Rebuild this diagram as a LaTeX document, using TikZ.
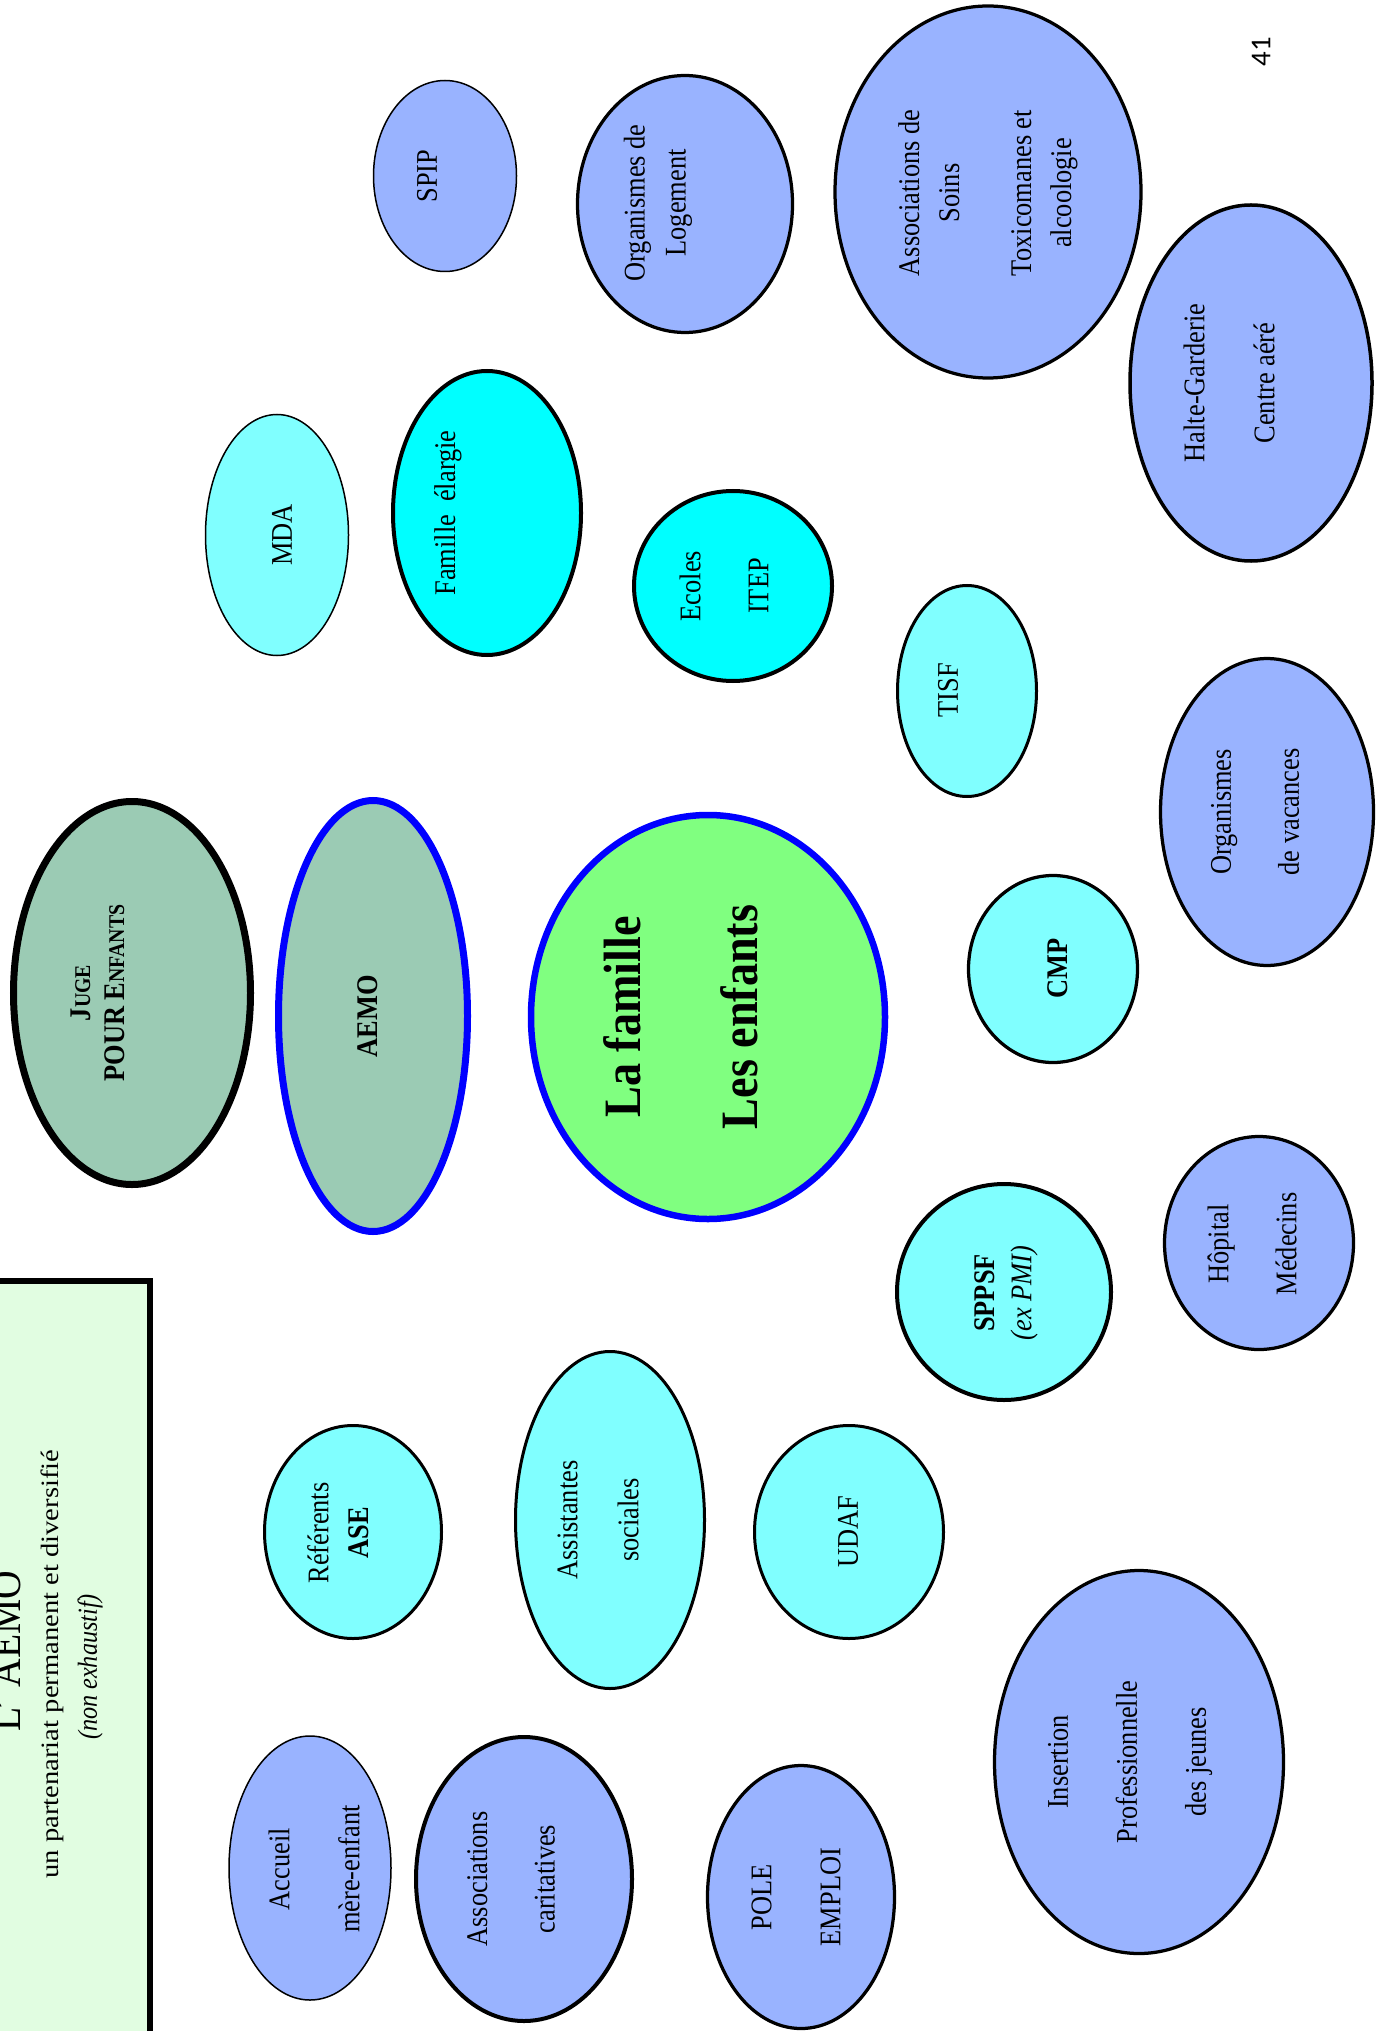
\documentclass[tikz,border=0pt]{standalone}
\usepackage{fontspec}
\setmainfont{Liberation Serif}[FakeStretch=0.88]
\newfontfamily\numfont{Carlito}
\usetikzlibrary{shapes.geometric}
\definecolor{periw}{HTML}{99B3FF}
\definecolor{lcyan}{HTML}{80FFFF}
\definecolor{fcyan}{HTML}{00FFFF}
\definecolor{lgreen}{HTML}{80FF80}
\definecolor{sage}{HTML}{9BCBB4}
\definecolor{paleg}{HTML}{E1FDE1}
\definecolor{pureblue}{HTML}{0000FF}
\tikzset{
  blob/.style={ellipse, draw=black, inner sep=0pt, outer sep=0pt, line width=1.3pt},
  thinblob/.style={blob, line width=0.6pt},
  lbl/.style={rotate=90, align=center, inner sep=0pt, outer sep=0pt, text=black},
  nf/.style={font=\fontsize{12}{#1}\selectfont},
}
\begin{document}
\begin{tikzpicture}[x=0.4pt, y=-0.4pt]
\path[use as bounding box] (0,0) rectangle (1375,2031);
\clip (0,0) rectangle (1375,2031);
% title box
\path[fill=paleg, draw=black, line width=2.4pt] (-20,1281) rectangle (150,2060);
\node[lbl, font=\fontsize{18}{20}\selectfont] (t1) at (6,1651) {L' AEMO};
\node[lbl, xscale=1.3, font=\fontsize{10}{12}\selectfont] (t2) at (52.5,1664) {un partenariat permanent et diversifié};
\node[lbl, font=\fontsize{11}{13}\selectfont\itshape] (t3) at (90,1667) {(non exhaustif)};
% page number
\node[lbl, font=\numfont\fontsize{11.5}{13}\selectfont] (pg) at (1261,52) {41};

% ellipses
\node[blob, fill=sage, line width=2.8pt, minimum width=94.8pt, minimum height=153.2pt] (juge) at (132,993) {};
\node[lbl, font=\fontsize{12}{13.6}\selectfont\bfseries] (juget) at (97.5,993) {J{\fontsize{9}{9}\selectfont UGE}\\POUR E{\fontsize{9}{9}\selectfont NFANTS}};

\node[blob, fill=sage, draw=pureblue, line width=2.8pt, minimum width=75.6pt, minimum height=172.4pt] (aemo) at (373,1016) {};
\node[lbl, font=\fontsize{12}{14}\selectfont\bfseries] (aemot) at (368,1016) {AEMO};

\node[blob, fill=lgreen, draw=pureblue, line width=2.6pt, minimum width=141.6pt, minimum height=161.6pt] (fam) at (708,1017) {};
\node[lbl, font=\fontsize{21}{47}\selectfont\bfseries] (famt) at (681,1017) {La famille\\Les enfants};

\node[blob, fill=fcyan, line width=1.6pt, minimum width=79.2pt, minimum height=76pt] (ecoles) at (733,586) {};
\node[lbl, nf=27.2] (ecolest) at (724,586) {Ecoles\\ITEP};

\node[blob, fill=lcyan, line width=1.6pt, minimum width=85.6pt, minimum height=86.4pt] (sppsf) at (1004,1292) {};
\node[lbl, nf=14.8] (sppsft) at (1006,1293) {\textbf{SPPSF}\\\textit{(ex PMI)}};

\node[blob, fill=lcyan, line width=1.2pt, minimum width=70.8pt, minimum height=85.2pt] (ref) at (353,1532) {};
\node[lbl, nf=16] (reft) at (338,1533) {Référents\\\textbf{ASE}};

\node[thinblob, fill=periw, minimum width=64.8pt, minimum height=105.6pt] (accueil) at (310,1868) {};
\node[lbl, nf=28] (accueilt) at (314,1869) {Accueil\\mère-enfant};

\node[blob, fill=periw, minimum width=122.4pt, minimum height=148.8pt] (soins) at (988,192) {};
\node[lbl, nf=16] (soinst) at (988,193) {Associations de\\Soins\\[12.8pt]Toxicomanes et\\alcoologie};

\node[blob, fill=periw, line width=1.4pt, minimum width=96.8pt, minimum height=142.4pt] (halte) at (1251,383) {};
\node[lbl, nf=28] (haltet) at (1229,383) {Halte-Garderie\\Centre aéré};

\node[blob, fill=periw, minimum width=75.6pt, minimum height=85.2pt] (hop) at (1259,1243) {};
\node[lbl, nf=27.2] (hopt) at (1252,1244) {Hôpital\\Médecins};

\node[thinblob, fill=periw, minimum width=57.2pt, minimum height=76.4pt] (spip) at (445,176) {};
\node[lbl, nf=14] (spipt) at (427,176) {SPIP};

\node[blob, fill=periw, minimum width=86pt, minimum height=102.8pt] (logement) at (685,204) {};
\node[lbl, nf=16.4] (logementt) at (658,203) {Organismes de\\Logement};

\node[thinblob, fill=lcyan, minimum width=57.2pt, minimum height=96.4pt] (mda) at (277,535) {};
\node[lbl, nf=14] (mdat) at (282,535) {MDA};

\node[blob, fill=fcyan, line width=1.6pt, minimum width=75.2pt, minimum height=113.6pt] (famel) at (487,513) {};
\node[lbl, nf=14] (famelt) at (448,513) {Famille\ \ élargie};

\node[blob, fill=lcyan, line width=1.2pt, minimum width=55.6pt, minimum height=84.4pt] (tisf) at (967,691) {};
\node[lbl, nf=14] (tisft) at (948,690) {TISF};

\node[blob, fill=periw, minimum width=85.2pt, minimum height=122.8pt] (vac) at (1267,812) {};
\node[lbl, nf=27.2] (vact) at (1255,812) {Organismes\\de vacances};

\node[blob, fill=lcyan, minimum width=67.6pt, minimum height=74.8pt] (cmp) at (1053,969) {};
\node[lbl, nf=14] (cmpt) at (1058,968) {\textbf{CMP}};

\node[blob, fill=lcyan, line width=1.2pt, minimum width=75.6pt, minimum height=85.2pt] (udaf) at (849,1532) {};
\node[lbl, nf=14] (udaft) at (848,1532) {UDAF};

\node[blob, fill=lcyan, line width=1.2pt, minimum width=75.6pt, minimum height=134.8pt] (assist) at (610,1520) {};
\node[lbl, nf=24.4] (assistt) at (598,1520) {Assistantes\\sociales};

\node[blob, fill=periw, line width=1.6pt, minimum width=86.4pt, minimum height=113.6pt] (carit) at (524,1879) {};
\node[lbl, nf=27] (caritt) at (511,1879) {Associations\\caritatives};

\node[blob, fill=periw, minimum width=74.8pt, minimum height=105.2pt] (pole) at (801,1897) {};
\node[lbl, nf=27.6] (polet) at (796,1897) {POLE\\EMPLOI};

\node[blob, fill=periw, minimum width=115.6pt, minimum height=153.2pt] (insert) at (1139,1762) {};
\node[lbl, nf=27.6] (insertt) at (1130,1762) {Insertion\\Professionnelle\\des jeunes};
\end{tikzpicture}
\end{document}
